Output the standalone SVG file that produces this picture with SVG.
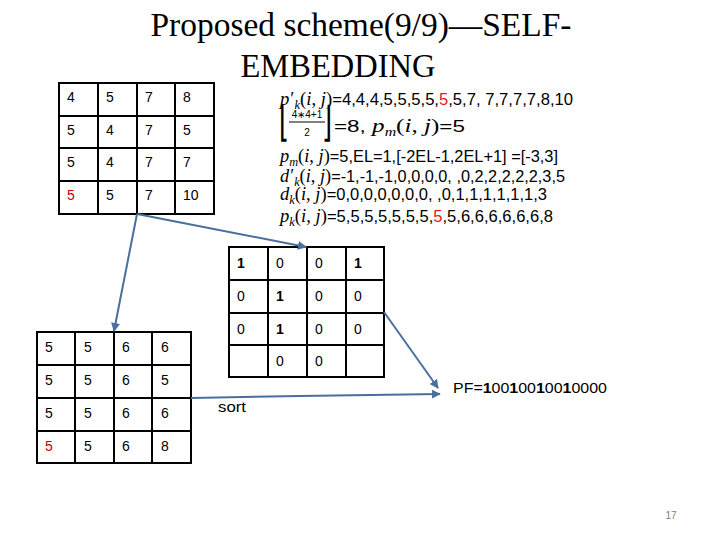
<svg xmlns="http://www.w3.org/2000/svg" width="720" height="540" viewBox="0 0 720 540">
<style>
.title{font-family:"Liberation Serif","Times New Roman",serif;font-size:34px;fill:#000}
.cell{font-family:"Liberation Sans",Arial,sans-serif;font-size:14px;fill:#000}
.b{font-weight:bold}
.red{fill:#c00000}
.grid{fill:none;stroke:#000;stroke-width:2}
.f{font-family:"Liberation Sans",Arial,sans-serif;font-size:16px;fill:#000}
.mi{font-family:"Liberation Serif","Times New Roman",serif;font-style:italic;font-size:18px}
.mu{font-family:"Liberation Serif","Times New Roman",serif;font-size:18px}
.sub{font-family:"Liberation Serif","Times New Roman",serif;font-style:italic;font-size:12px}
.rf{fill:#e0201c}
.brk{font-family:"DejaVu Sans",sans-serif;font-size:26px;fill:#000}
.conn{fill:none;stroke:#4a6f9c;stroke-width:2}
.lbl{font-family:"Liberation Sans",Arial,sans-serif;font-size:15px;fill:#000}
</style>
<defs>
<marker id="ah" viewBox="0 0 10 10" refX="9" refY="5" markerWidth="4.5" markerHeight="4.5" orient="auto" markerUnits="strokeWidth">
<path d="M0,0 L10,5 L0,10 z" fill="#4a6f9c"/>
</marker>
</defs>
<rect width="720" height="540" fill="#fff"/>

<g id="title">
<text class="title" x="361" y="36" text-anchor="middle" textLength="421" lengthAdjust="spacingAndGlyphs">Proposed scheme(9/9)—SELF-</text>
<text class="title" x="338" y="77" text-anchor="middle" textLength="195" lengthAdjust="spacingAndGlyphs">EMBEDDING</text>
</g>

<g id="table-original">
<path class="grid" d="M59,83 H214 V214 H59 Z M98,83 V214 M137,83 V214 M175,83 V214 M59,116 H214 M59,148 H214 M59,181 H214"/>
<text class="cell" x="67" y="102">4</text><text class="cell" x="106" y="102">5</text><text class="cell" x="145" y="102">7</text><text class="cell" x="183" y="102">8</text>
<text class="cell" x="67" y="135">5</text><text class="cell" x="106" y="135">4</text><text class="cell" x="145" y="135">7</text><text class="cell" x="183" y="135">5</text>
<text class="cell" x="67" y="167">5</text><text class="cell" x="106" y="167">4</text><text class="cell" x="145" y="167">7</text><text class="cell" x="183" y="167">7</text>
<text class="cell red" x="67" y="200">5</text><text class="cell" x="106" y="200">5</text><text class="cell" x="145" y="200">7</text><text class="cell" x="183" y="200">10</text>
</g>

<g id="formulas">
<text class="f" x="280" y="105" textLength="293" lengthAdjust="spacingAndGlyphs"><tspan class="mi">p</tspan><tspan class="mu" dx="1">′</tspan><tspan class="sub" dy="4">k</tspan><tspan class="mu" dy="-4">(</tspan><tspan class="mi">i</tspan><tspan class="mu">, </tspan><tspan class="mi">j</tspan><tspan class="mu">)</tspan>=4,4,4,5,5,5,5,<tspan class="rf">5</tspan>,5,7, 7,7,7,7,8,10</text>

<text class="brk" x="279" y="100" transform="translate(0,-23.7) scale(1,1.6)">⌊</text>
<text class="brk" x="322" y="100" transform="translate(0,-23.7) scale(1,1.6)">⌋</text>
<text x="307" y="118" text-anchor="middle" font-family="Liberation Sans,Arial,sans-serif" font-size="10">4∗4+1</text>
<line x1="289" y1="122" x2="325" y2="122" stroke="#000" stroke-width="1"/>
<text x="307" y="136" text-anchor="middle" font-family="Liberation Sans,Arial,sans-serif" font-size="10">2</text>
<text class="f" x="334" y="132" textLength="131" lengthAdjust="spacingAndGlyphs" style="font-size:17px">=8, <tspan class="mi" style="font-size:19px">p</tspan><tspan class="sub" dy="4">m</tspan><tspan class="mu" dy="-4" style="font-size:19px">(</tspan><tspan class="mi" style="font-size:19px">i</tspan><tspan class="mu" style="font-size:19px">, </tspan><tspan class="mi" style="font-size:19px">j</tspan><tspan class="mu" style="font-size:19px">)</tspan>=5</text>

<text class="f" x="280" y="162" textLength="278" lengthAdjust="spacingAndGlyphs"><tspan class="mi">p</tspan><tspan class="sub" dy="4">m</tspan><tspan class="mu" dy="-4">(</tspan><tspan class="mi">i</tspan><tspan class="mu">, </tspan><tspan class="mi">j</tspan><tspan class="mu">)</tspan>=5,EL=1,[-2EL-1,2EL+1] =[-3,3]</text>

<text class="f" x="280" y="182" textLength="285" lengthAdjust="spacingAndGlyphs"><tspan class="mi">d</tspan><tspan class="mu" dx="1">′</tspan><tspan class="sub" dy="4">k</tspan><tspan class="mu" dy="-4">(</tspan><tspan class="mi">i</tspan><tspan class="mu">, </tspan><tspan class="mi">j</tspan><tspan class="mu">)</tspan>=-1,-1,-1,0,0,0,0,  ,0,2,2,2,2,2,3,5</text>

<text class="f" x="280" y="200" textLength="267" lengthAdjust="spacingAndGlyphs"><tspan class="mi">d</tspan><tspan class="sub" dy="4">k</tspan><tspan class="mu" dy="-4">(</tspan><tspan class="mi">i</tspan><tspan class="mu">, </tspan><tspan class="mi">j</tspan><tspan class="mu">)</tspan>=0,0,0,0,0,0,0,  ,0,1,1,1,1,1,1,3</text>

<text class="f" x="280" y="222" textLength="273" lengthAdjust="spacingAndGlyphs"><tspan class="mi">p</tspan><tspan class="sub" dy="4">k</tspan><tspan class="mu" dy="-4">(</tspan><tspan class="mi">i</tspan><tspan class="mu">, </tspan><tspan class="mi">j</tspan><tspan class="mu">)</tspan>=5,5,5,5,5,5,5,<tspan class="rf">5</tspan>,5,6,6,6,6,6,6,8</text>
</g>

<g id="table-bits">
<path class="grid" d="M229,247 H384 V377 H229 Z M268,247 V377 M307,247 V377 M346,247 V377 M229,280 H384 M229,313 H384 M229,345 H384"/>
<text class="cell b" x="237" y="268">1</text><text class="cell" x="276" y="268">0</text><text class="cell" x="315" y="268">0</text><text class="cell b" x="354" y="268">1</text>
<text class="cell" x="237" y="301">0</text><text class="cell b" x="276" y="301">1</text><text class="cell" x="315" y="301">0</text><text class="cell" x="354" y="301">0</text>
<text class="cell" x="237" y="334">0</text><text class="cell b" x="276" y="334">1</text><text class="cell" x="315" y="334">0</text><text class="cell" x="354" y="334">0</text>
<text class="cell" x="276" y="366">0</text><text class="cell" x="315" y="366">0</text>
</g>

<g id="table-embedded">
<path class="grid" d="M37,332 H191 V463 H37 Z M75,332 V463 M114,332 V463 M152,332 V463 M37,365 H191 M37,398 H191 M37,431 H191"/>
<text class="cell" x="45" y="352">5</text><text class="cell" x="84" y="352">5</text><text class="cell" x="122" y="352">6</text><text class="cell" x="161" y="352">6</text>
<text class="cell" x="45" y="385">5</text><text class="cell" x="84" y="385">5</text><text class="cell" x="122" y="385">6</text><text class="cell" x="161" y="385">5</text>
<text class="cell" x="45" y="418">5</text><text class="cell" x="84" y="418">5</text><text class="cell" x="122" y="418">6</text><text class="cell" x="161" y="418">6</text>
<text class="cell red" x="45" y="451">5</text><text class="cell" x="84" y="451">5</text><text class="cell" x="122" y="451">6</text><text class="cell" x="161" y="451">8</text>
</g>

<g id="connectors">
<line class="conn" x1="137" y1="214" x2="114" y2="331" marker-end="url(#ah)"/>
<line class="conn" x1="137" y1="214" x2="306" y2="247" marker-end="url(#ah)"/>
<line class="conn" x1="384" y1="312" x2="438" y2="388" marker-end="url(#ah)"/>
<polyline class="conn" points="191,398 300,396 440,394" marker-end="url(#ah)"/>
</g>

<g id="labels">
<text class="lbl" x="218" y="412" textLength="28" lengthAdjust="spacingAndGlyphs">sort</text>
<text class="lbl" x="453" y="393" textLength="154" lengthAdjust="spacingAndGlyphs">PF=<tspan class="b">1</tspan>00<tspan class="b">1</tspan>00<tspan class="b">1</tspan>00<tspan class="b">1</tspan>0000</text>
<text x="671" y="519" text-anchor="middle" font-family="Liberation Sans,Arial,sans-serif" font-size="10" fill="#808080">17</text>
</g>
</svg>
